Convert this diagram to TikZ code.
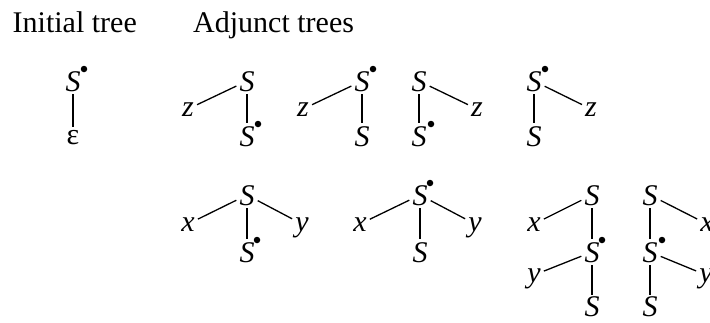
\documentclass[tikz,border=0pt]{standalone}
\usepackage{fontspec}
\setmainfont{Liberation Serif}
\begin{document}
\begin{tikzpicture}[x=1pt,y=-1pt,
  headnode/.style={font=\fontsize{30}{36}\selectfont, inner sep=0pt, anchor=base west},
  capnode/.style={font=\fontsize{30}{36}\selectfont\itshape, inner sep=3pt, text height=20pt, text depth=0pt, anchor=base},
  lownode/.style={font=\fontsize{30}{36}\selectfont\itshape, inner sep=3pt, text height=14pt, text depth=0pt, anchor=base},
  epsnode/.style={font=\fontsize{30}{36}\selectfont, inner sep=3pt, text height=14pt, text depth=0pt, anchor=base},
  conn/.style={line width=1.3pt},
  dotnode/.style={circle, fill=black, inner sep=0pt, minimum size=6.5pt}]
\useasboundingbox (0,0) rectangle (710,322);
\clip (0,0) rectangle (710,322);

% headings
\node[headnode] (h1) at (12.5,32) {Initial tree};
\node[headnode] (h2) at (193,32) {Adjunct trees};

% ---- Initial tree
\node[capnode] (a1) at (73,91) {S};
\node[epsnode] (a2) at (73,144) {ε};
\node[dotnode] (ad) at ([shift={(11,-22)}]a1.base) {};
\draw[conn] (a1) -- (a2);

% ---- Tree 2
\node[capnode] (b1) at (247,91) {S};
\node[lownode] (bz) at (188,116) {z};
\node[capnode] (b2) at (247,146) {S};
\node[dotnode] (bd) at ([shift={(11,-22)}]b2.base) {};
\draw[conn] (bz) -- (b1);
\draw[conn] (b1) -- (b2);

% ---- Tree 3
\node[capnode] (c1) at (362,91) {S};
\node[lownode] (cz) at (303,116) {z};
\node[capnode] (c2) at (362,146) {S};
\node[dotnode] (cd) at ([shift={(11,-22)}]c1.base) {};
\draw[conn] (cz) -- (c1);
\draw[conn] (c1) -- (c2);

% ---- Tree 4
\node[capnode] (e1) at (419,91) {S};
\node[lownode] (ez) at (477,116) {z};
\node[capnode] (e2) at (419,146) {S};
\node[dotnode] (ed) at ([shift={(12,-22)}]e2.base) {};
\draw[conn] (e1) -- (ez);
\draw[conn] (e1) -- (e2);

% ---- Tree 5
\node[capnode] (f1) at (534,91) {S};
\node[lownode] (fz) at (591,116) {z};
\node[capnode] (f2) at (534,146) {S};
\node[dotnode] (fd) at ([shift={(11,-22)}]f1.base) {};
\draw[conn] (f1) -- (fz);
\draw[conn] (f1) -- (f2);

% ---- Tree A
\node[capnode] (g1) at (247,205) {S};
\node[lownode] (gx) at (188,231) {x};
\node[lownode] (gy) at (302,231) {y};
\node[capnode] (g2) at (247,262) {S};
\node[dotnode] (gd) at ([shift={(10,-22)}]g2.base) {};
\draw[conn] (gx) -- (g1);
\draw[conn] (g1) -- (gy);
\draw[conn] (g1) -- (g2);

% ---- Tree B
\node[capnode] (k1) at (420,205) {S};
\node[lownode] (kx) at (360,231) {x};
\node[lownode] (ky) at (475,231) {y};
\node[capnode] (k2) at (420,262) {S};
\node[dotnode] (kd) at ([shift={(10,-22)}]k1.base) {};
\draw[conn] (kx) -- (k1);
\draw[conn] (k1) -- (ky);
\draw[conn] (k1) -- (k2);

% ---- Tree C
\node[capnode] (m1) at (592,205) {S};
\node[lownode] (mx) at (534,231) {x};
\node[capnode] (m2) at (592,262) {S};
\node[lownode] (my) at (534,282) {y};
\node[capnode, inner ysep=1pt] (m3) at (592,316) {S};
\node[dotnode] (md) at ([shift={(10,-22)}]m2.base) {};
\draw[conn] (mx) -- (m1);
\draw[conn] (m1) -- (m2);
\draw[conn] (my) -- (m2);
\draw[conn] (m2) -- (m3);

% ---- Tree D
\node[capnode] (n1) at (650,205) {S};
\node[lownode] (nx) at (707,231) {x};
\node[capnode] (n2) at (650,262) {S};
\node[lownode] (ny) at (706,282) {y};
\node[capnode, inner ysep=1pt] (n3) at (650,316) {S};
\node[dotnode] (nd) at ([shift={(12,-22)}]n2.base) {};
\draw[conn] (n1) -- (nx);
\draw[conn] (n1) -- (n2);
\draw[conn] (n2) -- (ny);
\draw[conn] (n2) -- (n3);
\end{tikzpicture}
\end{document}
